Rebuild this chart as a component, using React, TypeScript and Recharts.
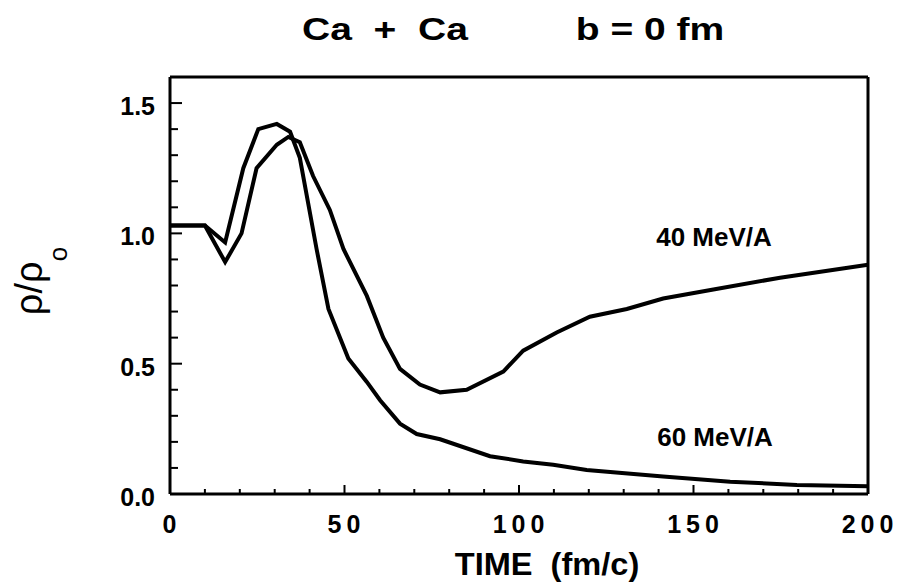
import React from "react";
import { LineChart, Line, XAxis, YAxis, ReferenceLine } from "recharts";

// 40 MeV/A curve
const time40 = [0, 10, 15.8, 20.5, 24.8, 30.6, 33.9, 37.2, 41, 45.8, 49.7, 56.4, 61.1, 65.9, 71.6, 77.4, 85, 95.5, 101.2, 110.8, 120.3, 130.9, 141.3, 155.7, 174.8, 200];
const rho40 = [1.03, 1.03, 0.89, 1.0, 1.25, 1.34, 1.37, 1.35, 1.22, 1.09, 0.94, 0.76, 0.6, 0.48, 0.42, 0.39, 0.4, 0.47, 0.55, 0.62, 0.68, 0.71, 0.75, 0.785, 0.83, 0.88];

// 60 MeV/A curve
const time60 = [0, 10, 15.8, 21, 25.3, 30.6, 34.4, 37.2, 42, 45.4, 51.1, 56.4, 60.2, 65.9, 70.7, 77.4, 91.7, 101.2, 109.8, 119.4, 141.3, 160.5, 179.6, 200];
const rho60 = [1.03, 1.03, 0.965, 1.25, 1.4, 1.42, 1.39, 1.29, 0.94, 0.71, 0.52, 0.43, 0.36, 0.27, 0.23, 0.21, 0.145, 0.125, 0.112, 0.092, 0.067, 0.047, 0.035, 0.03];

const xTicks = [0, 10, 20, 30, 40, 50, 60, 70, 80, 90, 100, 110, 120, 130, 140, 150, 160, 170, 180, 190, 200];
const xLabels = [0, 50, 100, 150, 200];
const yTicks = [0, 0.1, 0.2, 0.3, 0.4, 0.5, 0.6, 0.7, 0.8, 0.9, 1.0, 1.1, 1.2, 1.3, 1.4, 1.5, 1.6];
const yLabels = ["0.0", "0.5", "1.0", "1.5"];

const data40 = time40.map((t, i) => ({ t, v: rho40[i] }));
const data60 = time60.map((t, i) => ({ t, v: rho60[i] }));

const FONT = "'Liberation Sans', Arial, Helvetica, sans-serif";

const XTick = (props: any) => {
  const { x, y, payload } = props;
  const v = payload.value;
  const major = xLabels.includes(v);
  return (
    <g>
      <line x1={x} x2={x} y1={y} y2={y - (major ? 9 : 5)} stroke="#000" strokeWidth={2} />
      {major && (
        <text x={x + 2} y={y + 39} textAnchor="middle" fontFamily={FONT} fontWeight="bold" fontSize={25} letterSpacing={5} fill="#000">
          {v}
        </text>
      )}
    </g>
  );
};

const YTick = (props: any) => {
  const { x, y, payload } = props;
  const v = payload.value;
  const label = v.toFixed(1);
  const major = yLabels.includes(label) && Math.abs(v * 2 - Math.round(v * 2)) < 1e-6;
  return (
    <g>
      <line x1={x} x2={x + (major ? 12 : 8)} y1={y} y2={y} stroke="#000" strokeWidth={2} />
      {major && (
        <text x={x - 15} y={y + 12} textAnchor="end" fontFamily={FONT} fontWeight="bold" fontSize={25} fill="#000">
          {label}
        </text>
      )}
    </g>
  );
};

const textStyle: React.CSSProperties = {
  position: "absolute",
  fontFamily: FONT,
  fontWeight: "bold",
  color: "#000",
  whiteSpace: "pre",
  lineHeight: 1,
};

export default function App() {
  return (
    <div style={{ position: "absolute", left: 0, top: 0, width: 898, height: 588, background: "#fff" }}>
      <LineChart width={898} height={588} margin={{ top: 77, right: 30, bottom: 64, left: 0 }}>
        <XAxis
          type="number"
          dataKey="t"
          domain={[0, 200]}
          ticks={xTicks}
          interval={0}
          height={30}
          tickSize={0}
          tickMargin={0}
          tickLine={false}
          tick={<XTick />}
          axisLine={{ stroke: "#000", strokeWidth: 3 }}
        />
        <YAxis
          type="number"
          dataKey="v"
          domain={[0, 1.6]}
          ticks={yTicks}
          interval={0}
          width={170}
          tickSize={0}
          tickMargin={0}
          tickLine={false}
          tick={<YTick />}
          axisLine={{ stroke: "#000", strokeWidth: 3 }}
        />
        <ReferenceLine y={1.6} stroke="#000" strokeWidth={3} />
        <ReferenceLine x={200} stroke="#000" strokeWidth={3} />
        <Line data={data40} dataKey="v" type="linear" stroke="#000" strokeWidth={4} dot={false} isAnimationActive={false} />
        <Line data={data60} dataKey="v" type="linear" stroke="#000" strokeWidth={4} dot={false} isAnimationActive={false} />
      </LineChart>

      <div style={{ ...textStyle, fontSize: 32, left: 385, top: 29, transform: "translate(-50%, -50%) scaleX(1.22)" }}>
        {"Ca  +  Ca"}
      </div>
      <div style={{ ...textStyle, fontSize: 32, left: 650, top: 29, transform: "translate(-50%, -50%) scaleX(1.22)" }}>
        {"b = 0 fm"}
      </div>
      <div style={{ ...textStyle, fontSize: 26, left: 714, top: 237, transform: "translate(-50%, -50%)" }}>
        {"40 MeV/A"}
      </div>
      <div style={{ ...textStyle, fontSize: 26, left: 715, top: 437, transform: "translate(-50%, -50%)" }}>
        {"60 MeV/A"}
      </div>
      <div style={{ ...textStyle, fontSize: 31, left: 547, top: 564, transform: "translate(-50%, -50%) scaleX(1.05)" }}>
        {"TIME  (fm/c)"}
      </div>
      <div
        style={{
          position: "absolute",
          left: 29,
          top: 281,
          height: 40,
          lineHeight: "40px",
          fontFamily: FONT,
          fontSize: 38,
          color: "#000",
          whiteSpace: "pre",
          transform: "translate(-50%, -50%) rotate(-90deg)",
        }}
      >
        {"ρ/ρ"}
        <span style={{ fontSize: 26, position: "relative", top: 25 }}>o</span>
      </div>
    </div>
  );
}
